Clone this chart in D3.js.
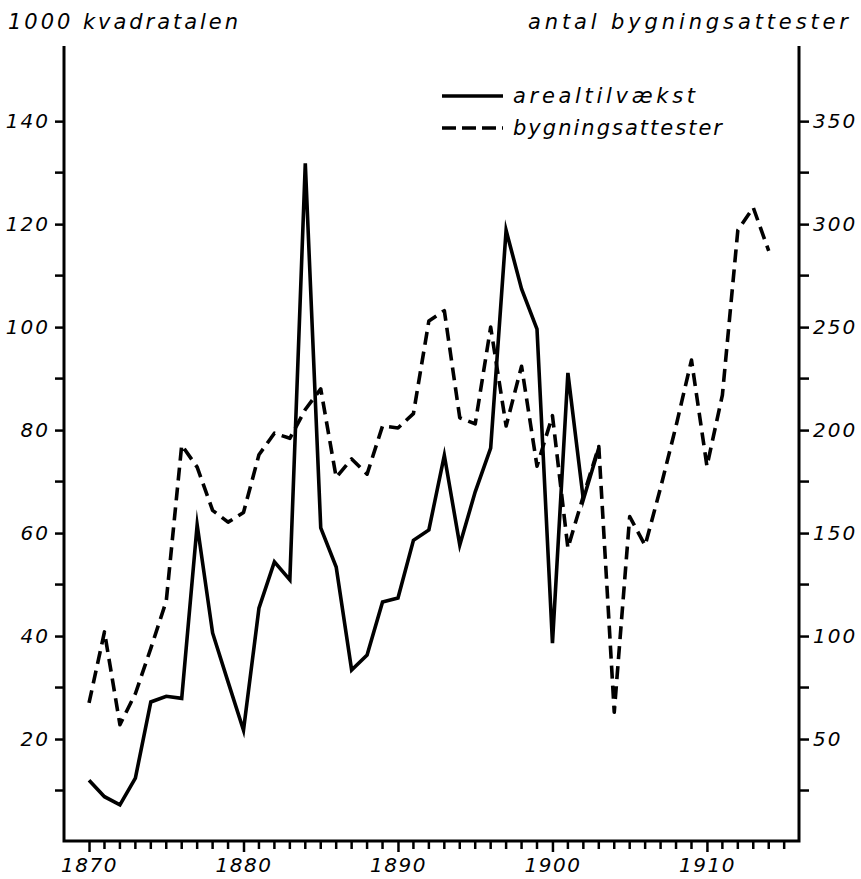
<!DOCTYPE html>
<html>
<head>
<meta charset="utf-8">
<script src="https://cdn.jsdelivr.net/npm/d3@7"></script>
<style>
  html, body { margin: 0; padding: 0; background: #fff; }
  svg text { font-family: "DejaVu Sans", sans-serif; font-style: italic; fill: #000; }
</style>
</head>
<body>
<svg id="chart" width="861" height="879"></svg>
<script>
// Years of the series
const years = d3.range(1870, 1915);

// Annual growth of built-up area (1000 square ells), 1870–1903
const arealtilvaekst = [
  12.0, 8.8, 7.2, 12.4, 27.2, 28.3, 27.9, 61.6, 40.6, 31.1,
  21.7, 45.4, 54.4, 50.9, 131.8, 61.0, 53.4, 33.4, 36.3, 46.6,
  47.4, 58.6, 60.6, 75.1, 57.7, 68.0, 76.5, 118.8, 107.4, 99.6,
  38.6, 91.1, 66.5, 76.5
];

// Number of building certificates issued, 1870–1914
const bygningsattester = [
  67.5, 102, 57, 72, 94, 117, 192.7, 182, 161, 155.3,
  160, 188, 198.5, 196, 210, 220, 177, 186, 178.6, 202,
  201, 208, 253, 258, 206, 203, 250, 202, 231, 182.5,
  207, 142.7, 168, 192, 63, 158, 144, 172, 202, 234,
  182.5, 217, 297, 308, 287
];

// Tick values
const leftMajor = [20, 40, 60, 80, 100, 120, 140];
const leftMinor = [10, 30, 50, 70, 90, 110, 130];
const rightMajor = [50, 100, 150, 200, 250, 300, 350];
const rightMinor = [25, 75, 125, 175, 225, 275, 325];
const decadeTicks = [1870, 1880, 1890, 1900, 1910];
const yearTicks = d3.range(1870, 1916);

const svg = d3.select("#chart");

const plotLeft = 64, plotRight = 799, plotBottom = 841, plotTop = 46;

const x = d3.scaleLinear().domain([1868.38, 1915.96]).range([plotLeft, plotRight]);
const yL = d3.scaleLinear().domain([0, 154.4]).range([842, 47]);
const yR = d3.scaleLinear().domain([0, 386]).range([842, 47]);

const labelFont = 20;

// Frame: left, bottom and right axis lines (open at the top)
svg.append("path")
  .attr("d", `M${plotLeft},${plotTop}V${plotBottom}H${plotRight}V${plotTop}`)
  .attr("fill", "none")
  .attr("stroke", "#000")
  .attr("stroke-width", 3)
  .attr("stroke-linejoin", "miter");

// Left axis
const gL = svg.append("g").attr("transform", `translate(${plotLeft},0)`);
gL.call(d3.axisLeft(yL).tickValues(leftMajor).tickSize(9).tickPadding(5).tickFormat(d3.format("d")));
gL.call(g => g.select(".domain").remove());
gL.selectAll(".tick line").attr("stroke-width", 2.5);
gL.selectAll(".tick text").attr("font-size", labelFont).style("letter-spacing", "2px");
gL.append("g").selectAll("line").data(leftMinor).join("line")
  .attr("x1", -9).attr("x2", 0)
  .attr("y1", d => yL(d)).attr("y2", d => yL(d))
  .attr("stroke", "#000").attr("stroke-width", 2.5);

// Right axis
const gR = svg.append("g").attr("transform", `translate(${plotRight},0)`);
gR.call(d3.axisRight(yR).tickValues(rightMajor).tickSize(10).tickPadding(4).tickFormat(d3.format("d")));
gR.call(g => g.select(".domain").remove());
gR.selectAll(".tick line").attr("stroke-width", 2.5);
gR.selectAll(".tick text").attr("font-size", labelFont).style("letter-spacing", "2px");
gR.append("g").selectAll("line").data(rightMinor).join("line")
  .attr("x1", 0).attr("x2", 10)
  .attr("y1", d => yR(d)).attr("y2", d => yR(d))
  .attr("stroke", "#000").attr("stroke-width", 2.5);

// Bottom axis: a tick every year, labels at decades
const gB = svg.append("g").attr("transform", `translate(0,${plotBottom})`);
gB.call(d3.axisBottom(x).tickValues(decadeTicks).tickSize(11).tickPadding(6).tickFormat(d3.format("d")));
gB.call(g => g.select(".domain").remove());
gB.selectAll(".tick line").attr("stroke-width", 2.5);
gB.selectAll(".tick text").attr("font-size", labelFont).style("letter-spacing", "1.5px");
gB.append("g").selectAll("line").data(yearTicks.filter(d => d % 10 !== 0)).join("line")
  .attr("x1", d => x(d)).attr("x2", d => x(d))
  .attr("y1", 0).attr("y2", 8)
  .attr("stroke", "#000").attr("stroke-width", 2.5);

// Axis titles
svg.append("text").attr("x", 8).attr("y", 29)
  .attr("font-size", 21)
  .attr("textLength", 230).attr("lengthAdjust", "spacing")
  .text("1000 kvadratalen");
svg.append("text").attr("x", 528).attr("y", 29)
  .attr("font-size", 21)
  .attr("textLength", 320).attr("lengthAdjust", "spacing")
  .text("antal bygningsattester");

// Series lines
const lineL = d3.line().x((d, i) => x(years[i])).y(d => yL(d)).curve(d3.curveLinear);
const lineR = d3.line().x((d, i) => x(years[i])).y(d => yR(d)).curve(d3.curveLinear);

svg.append("path")
  .datum(bygningsattester)
  .attr("d", lineR)
  .attr("fill", "none")
  .attr("stroke", "#000")
  .attr("stroke-width", 3.6)
  .attr("stroke-dasharray", "13,7")
  .attr("stroke-linejoin", "round");

svg.append("path")
  .datum(arealtilvaekst)
  .attr("d", lineL)
  .attr("fill", "none")
  .attr("stroke", "#000")
  .attr("stroke-width", 3.6)
  .attr("stroke-linejoin", "miter")
  .attr("stroke-miterlimit", 10);

// Legend
const legend = svg.append("g");
const legendItems = [
  { label: "arealtilvækst", dash: null, y: 96, width: 182 },
  { label: "bygningsattester", dash: "14,6", y: 128, width: 209 }
];
legendItems.forEach(item => {
  legend.append("line")
    .attr("x1", 442).attr("x2", 503)
    .attr("y1", item.y).attr("y2", item.y)
    .attr("stroke", "#000").attr("stroke-width", 3.6)
    .attr("stroke-dasharray", item.dash);
  legend.append("text")
    .attr("x", 513).attr("y", item.y + 7)
    .attr("font-size", 21)
    .attr("textLength", item.width).attr("lengthAdjust", "spacing")
    .text(item.label);
});
</script>
</body>
</html>
